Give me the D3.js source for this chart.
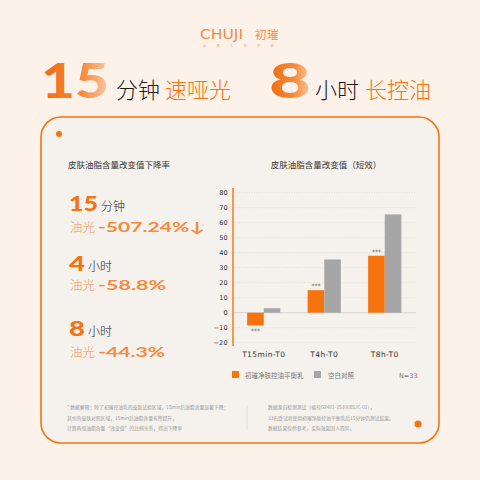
<!DOCTYPE html>
<html><head><meta charset="utf-8">
<script src="https://cdn.jsdelivr.net/npm/d3@7"></script>
<style>
html,body{margin:0;padding:0;background:#fdf2e9;}
svg{display:block;}
</style></head>
<body>
<svg id="c" width="480" height="480"></svg>
<script>
const categories = ["T15min-T0", "T4h-T0", "T8h-T0"];
const seriesNames = ["初璀净肤控油平衡乳", "空白对照"];
const productValues = [-8.5, 15, 38];
const controlValues = [3, 35.5, 65.5];
const yTicks = [80, 70, 60, 50, 40, 30, 20, 10, 0, -10, -20];
const stats = [
  {num: "15", unit: "分钟", label: "油光", value: "-507.24%↓"},
  {num: "4", unit: "小时", label: "油光", value: "-58.8%"},
  {num: "8", unit: "小时", label: "油光", value: "-44.3%"}
];
const footLeft = ["* 数据解释：除了初璀控油乳的皮肤试验区域，15min后油脂含量显著下降；",
  "其余的皮肤对照区域，15min后油脂含量有所提升，",
  "计算两组油脂含量“改变值”的比例关系，得出下降率"];
const footRight = ["数据源自检测测试（编号G2401-2510085JC-01），",
  "33名受试者使用初璀净肤控油平衡乳后15分钟仍测试结果。",
  "数据结果仅供参考，实际效果因人而异。"];

const ORANGE = "#f7730e";
const GRAY = "#a6a6a6";
const CJK = "'Noto Sans CJK SC', 'Noto Sans', sans-serif";
const NUMF = "'Lato', 'DejaVu Sans', sans-serif";

const svg = d3.select("#c");
const defs = svg.append("defs");
const grad = defs.append("linearGradient").attr("id","g1").attr("x1","0").attr("x2","1").attr("y1","0").attr("y2","0");
grad.append("stop").attr("offset","0%").attr("stop-color","#f26a10");
grad.append("stop").attr("offset","60%").attr("stop-color","#f58a3a");
grad.append("stop").attr("offset","100%").attr("stop-color","#fcc9a2");

svg.append("rect").attr("width",480).attr("height",480).attr("fill","#fdf2e9");

// brand
svg.append("text").attr("x",200).attr("y",38.5).attr("font-family","'DejaVu Sans', sans-serif")
  .attr("font-size",13.5).attr("fill","#f28a4a")
  .attr("textLength",43).attr("lengthAdjust","spacingAndGlyphs").text("CHUJI");
svg.append("text").attr("x",255).attr("y",38.5).attr("font-family",CJK).attr("font-size",11.5)
  .attr("fill","#f28a4a").attr("letter-spacing",0.5).text("初璀");
svg.append("text").attr("x",203).attr("y",47).attr("font-family",CJK).attr("font-size",3.5)
  .attr("fill","#f5a672").attr("letter-spacing",10).text("云南工艺护肤");

// header
function bigNum(x, txt, w){
  svg.append("text").attr("x",x).attr("y",98).attr("font-family",NUMF).attr("font-weight",900)
    .attr("font-size",48).attr("fill","url(#g1)").attr("textLength",w).attr("lengthAdjust","spacingAndGlyphs").text(txt);
}
bigNum(41,"15",68);
svg.append("text").attr("x",116).attr("y",98).attr("font-family",CJK).attr("font-weight",300).attr("font-size",22).attr("fill","#1a1a1a").text("分钟");
svg.append("text").attr("x",165).attr("y",98).attr("font-family",CJK).attr("font-weight",300).attr("font-size",22).attr("fill",ORANGE).text("速哑光");
bigNum(269,"8",42);
svg.append("text").attr("x",315).attr("y",98).attr("font-family",CJK).attr("font-weight",300).attr("font-size",22).attr("fill","#1a1a1a").text("小时");
svg.append("text").attr("x",365).attr("y",98).attr("font-family",CJK).attr("font-weight",300).attr("font-size",22).attr("fill",ORANGE).text("长控油");

// card
svg.append("rect").attr("x",41).attr("y",117).attr("width",398).attr("height",326).attr("rx",20)
  .attr("fill","#f5f1ec").attr("stroke",ORANGE).attr("stroke-width",1.6);
svg.append("circle").attr("cx",59).attr("cy",134).attr("r",3).attr("fill",ORANGE);
svg.append("circle").attr("cx",418).attr("cy",424).attr("r",3.5).attr("fill",ORANGE);

// left stats
svg.append("text").attr("x",68).attr("y",168).attr("font-family",CJK).attr("font-size",8.5).attr("fill","#333").text("皮肤油脂含量改变值下降率");
const statY = [211, 271, 336];
stats.forEach((s,i)=>{
  const y = statY[i];
  const numW = s.num.length === 2 ? 29 : 16;
  svg.append("text").attr("x",69).attr("y",y).attr("font-family",NUMF).attr("font-weight",900).attr("font-size",21)
    .attr("fill",ORANGE).attr("textLength",numW).attr("lengthAdjust","spacingAndGlyphs").text(s.num);
  svg.append("text").attr("x",69+numW+3).attr("y",y).attr("font-family",CJK).attr("font-weight",300).attr("font-size",12).attr("fill","#222").text(s.unit);
  const y2 = y + (i===0?21:19)+ (i===2?2:0);
  svg.append("text").attr("x",70).attr("y",y2).attr("font-family",CJK).attr("font-weight",300).attr("font-size",12.5).attr("fill","#f4945a").text(s.label);
  const vw = {0:107,1:68,2:67}[i];
  svg.append("text").attr("x",98).attr("y",y2).attr("font-family",NUMF).attr("font-weight",700).attr("font-size",14)
    .attr("fill","#f58a3c").attr("textLength",vw).attr("lengthAdjust","spacingAndGlyphs").text(s.value);
  if(i===0) svg.append("circle").attr("cx",203).attr("cy",y2-7).attr("r",0.6).attr("fill","#999");
});

// chart
const y = d3.scaleLinear().domain([-20,80]).range([342.7,192.7]);
const x = d3.scaleBand().domain(categories).range([233.5,415]).paddingInner(0).paddingOuter(0);
const bw = 16.6;

svg.append("text").attr("x",326).attr("y",168).attr("text-anchor","middle").attr("font-family",CJK)
  .attr("font-size",8.5).attr("fill","#333").text("皮肤油脂含量改变值（短效）");

const grid = svg.append("g");
yTicks.forEach(t=>{
  if(t!==0) grid.append("line").attr("x1",234).attr("x2",416).attr("y1",y(t)).attr("y2",y(t))
    .attr("stroke","#cfcac4").attr("stroke-width",0.5).attr("stroke-dasharray","1,1.5");
});
const axis = svg.append("g").attr("transform","translate(233,0)")
  .call(d3.axisLeft(y).tickValues(yTicks).tickSize(0).tickPadding(5));
axis.select(".domain").attr("stroke",ORANGE).attr("stroke-width",1.4).attr("d","M0,188V346");
axis.selectAll("text").attr("font-family","'DejaVu Sans', sans-serif").attr("font-size",6.5).attr("fill","#333").attr("letter-spacing",0.3);

// zero line
svg.append("line").attr("x1",234).attr("x2",416).attr("y1",y(0)).attr("y2",y(0)).attr("stroke","#c9c4be").attr("stroke-width",0.7);

categories.forEach((c,i)=>{
  const cx = x(c) + x.bandwidth()/2;
  const pv = productValues[i], cv = controlValues[i];
  svg.append("rect").attr("x",cx-bw).attr("width",bw).attr("y",y(Math.max(0,pv))).attr("height",Math.abs(y(pv)-y(0))).attr("fill",ORANGE);
  svg.append("rect").attr("x",cx).attr("width",bw).attr("y",y(Math.max(0,cv))).attr("height",Math.abs(y(cv)-y(0))).attr("fill",GRAY);
  const sy = pv < 0 ? y(pv)+8 : y(pv)-2;
  svg.append("text").attr("x",cx-bw/2).attr("y",sy).attr("text-anchor","middle").attr("font-family","'DejaVu Sans', sans-serif")
    .attr("font-size",6).attr("fill","#555").text("***");
  svg.append("text").attr("x",cx).attr("y",357).attr("text-anchor","middle").attr("font-family","'DejaVu Sans', sans-serif")
    .attr("font-size",7.5).attr("fill","#333").attr("letter-spacing",0.4).text(c);
});

// legend
svg.append("rect").attr("x",232).attr("y",371).attr("width",7).attr("height",7).attr("fill",ORANGE);
svg.append("text").attr("x",245).attr("y",377.5).attr("font-family",CJK).attr("font-size",6.5).attr("fill","#777").text(seriesNames[0]);
svg.append("rect").attr("x",314).attr("y",371).attr("width",7).attr("height",7).attr("fill",GRAY);
svg.append("text").attr("x",328).attr("y",377.5).attr("font-family",CJK).attr("font-size",6.5).attr("fill","#777").text(seriesNames[1]);
svg.append("text").attr("x",399).attr("y",377.5).attr("font-family","'DejaVu Sans', sans-serif").attr("font-size",6.5).attr("fill","#777").text("N=33");

// footnotes
footLeft.forEach((t,i)=>{
  svg.append("text").attr("x",67).attr("y",409+i*10.5).attr("font-family",CJK).attr("font-size",4.8).attr("fill","#9a9a9a").text(t);
});
svg.append("line").attr("x1",247).attr("x2",247).attr("y1",405).attr("y2",430).attr("stroke","#d6d1cb").attr("stroke-width",0.6);
footRight.forEach((t,i)=>{
  svg.append("text").attr("x",268).attr("y",409+i*10.5).attr("font-family",CJK).attr("font-size",4.8).attr("fill","#9a9a9a").text(t);
});
</script>
</body></html>
